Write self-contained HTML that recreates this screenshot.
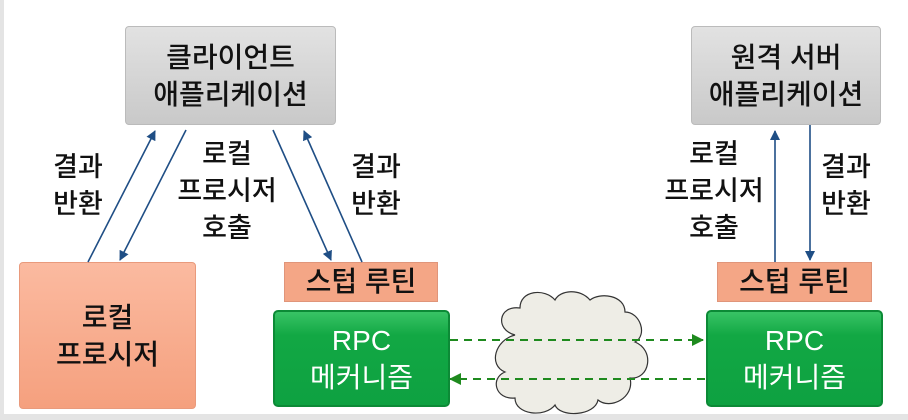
<!DOCTYPE html>
<html><head><meta charset="utf-8"><style>
body{margin:0;width:908px;height:420px;overflow:hidden;background:#fff;position:relative;font-family:"Liberation Sans","Noto Sans CJK KR",sans-serif;}
.b{position:absolute;box-sizing:border-box;display:flex;flex-direction:column;align-items:center;justify-content:center;text-align:center;line-height:37px;font-size:28px;font-weight:500;color:#111;}
.gray{background:linear-gradient(#e2e2e2,#c9c9c9);border:1px solid #bbb;border-radius:4px;}
.sal{background:linear-gradient(#fbbaa0,#f5a07e);border:1px solid #e99a7c;border-radius:4px;}
.stub{background:#f4a686;border:1px solid #e0957a;line-height:30px;}
.grn{background:linear-gradient(#38c365,#12a844 25%,#0ea141);border:2px solid #0c8a36;border-radius:5px;color:#fff;font-weight:400;}
.t{position:absolute;font-size:27px;font-weight:500;line-height:37px;text-align:center;color:#111;transform:translateX(-50%);}
</style></head><body>
<div style="position:absolute;left:0;top:0;width:4px;height:420px;background:#e4e4e4"></div>
<div style="position:absolute;left:0;top:414px;width:908px;height:6px;background:#e4e4e4"></div>
<div class="b gray" style="left:125px;top:26px;width:211px;height:99px">클라이언트<br>애플리케이션</div>
<div class="b gray" style="left:691px;top:26px;width:190px;height:99px">원격 서버<br>애플리케이션</div>
<div class="b sal" style="left:19px;top:262px;width:177px;height:147px">로컬<br>프로시저</div>
<div class="b stub" style="left:284px;top:262px;width:154px;height:40px">스텁 루틴</div>
<div class="b stub" style="left:717px;top:262px;width:155px;height:40px">스텁 루틴</div>
<div class="b grn" style="left:273px;top:310px;width:177px;height:97px">RPC<br>메커니즘</div>
<div class="b grn" style="left:706px;top:310px;width:177px;height:97px">RPC<br>메커니즘</div>
<div class="t" style="left:78px;top:149px">결과<br>반환</div>
<div class="t" style="left:227px;top:136px">로컬<br>프로시저<br>호출</div>
<div class="t" style="left:376px;top:149px">결과<br>반환</div>
<div class="t" style="left:714px;top:136px">로컬<br>프로시저<br>호출</div>
<div class="t" style="left:846px;top:149px">결과<br>반환</div>
<svg width="908" height="420" style="position:absolute;left:0;top:0">
<defs>
<marker id="a" markerWidth="10" markerHeight="10" refX="9" refY="5" orient="auto" markerUnits="userSpaceOnUse"><path d="M0,0L10,5L0,10z" fill="#1f4e85"/></marker>
<marker id="g" markerWidth="12" markerHeight="12" refX="11" refY="6" orient="auto" markerUnits="userSpaceOnUse"><path d="M0,0L12,6L0,12z" fill="#1e8a1e"/></marker>
</defs>
<g stroke="#1f4e85" stroke-width="1.6" fill="none">
<line x1="88" y1="262" x2="155" y2="131" marker-end="url(#a)"/>
<line x1="186" y1="130" x2="120" y2="260" marker-end="url(#a)"/>
<line x1="273" y1="130" x2="331" y2="260" marker-end="url(#a)"/>
<line x1="362" y1="262" x2="304" y2="131" marker-end="url(#a)"/>
<line x1="775" y1="262" x2="775" y2="131" marker-end="url(#a)"/>
<line x1="810" y1="125" x2="810" y2="260" marker-end="url(#a)"/>
</g>
<path d="M515,335 C495,330 498,305 520,308 C520,290 545,288 555,300 C560,290 580,288 590,300 C600,292 625,295 625,312 C640,312 648,335 635,342 C655,350 650,380 630,378 C635,398 610,410 598,400 C595,416 560,418 555,405 C545,418 515,415 515,398 C495,400 490,378 505,372 C488,365 495,340 515,335 Z" fill="#eeede6" stroke="#333" stroke-width="1.2"/>
<g stroke="#1e8a1e" stroke-width="2" stroke-dasharray="8,6" fill="none">
<line x1="450" y1="340" x2="703" y2="340" marker-end="url(#g)"/>
<line x1="705" y1="379" x2="450" y2="379" marker-end="url(#g)"/>
</g>
</svg>
</body></html>
